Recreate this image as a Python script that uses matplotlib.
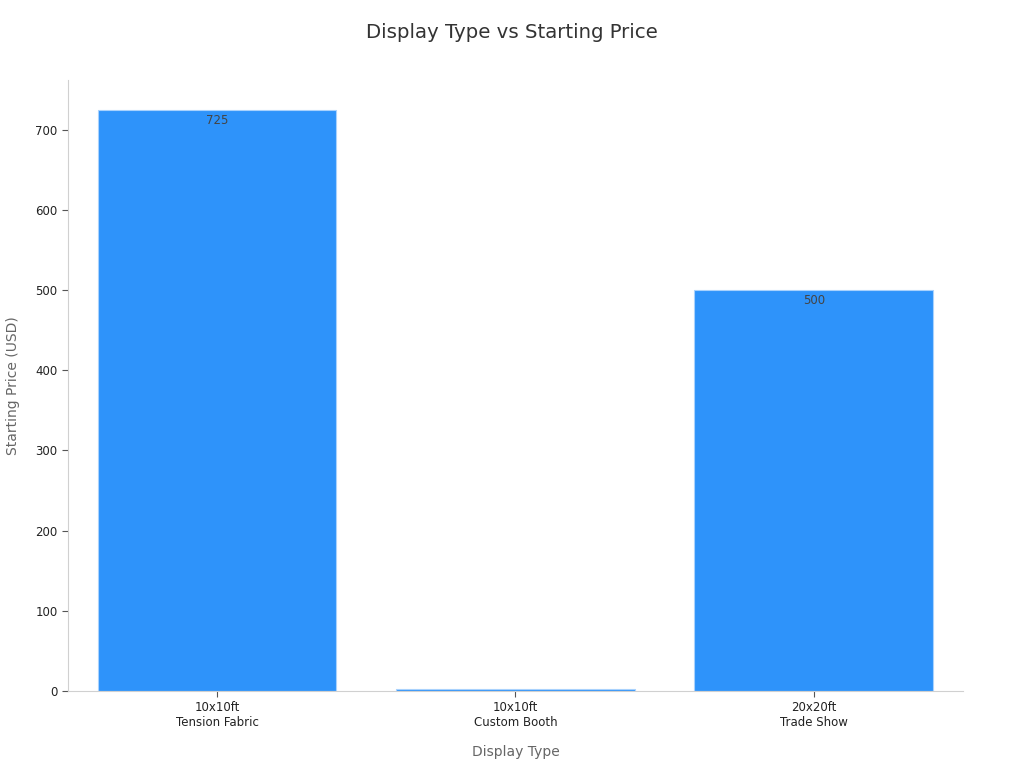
import matplotlib
matplotlib.use("Agg")
import matplotlib.pyplot as plt

categories = ["10x10ft\nTension Fabric", "10x10ft\nCustom Booth", "20x20ft\nTrade Show"]
prices = [725, 3, 500]
labels = ["725", "", "500"]

plt.rcParams['font.family'] = ['DejaVu Sans']
fig = plt.figure(figsize=(10.24, 7.68), dpi=100)
ax = fig.add_axes([0.0664, 0.1003, 0.874, 0.7955])

bars = ax.bar(range(len(categories)), prices, width=0.8, color="#2E93FA",
              edgecolor="#A9D2FD", linewidth=0.8)
for b, lab in zip(bars, labels):
    if lab:
        ax.annotate(lab, (b.get_x() + b.get_width() / 2, b.get_height()),
                    xytext=(0, -7.5), textcoords="offset points", ha="center", va="center",
                    fontsize=8.5, color="#444444")

ax.set_xlim(-0.5, 2.5)
ax.set_ylim(0, 762)
ax.set_xticks(range(len(categories)))
ax.set_xticklabels(categories)
ax.set_yticks([0, 100, 200, 300, 400, 500, 600, 700])
ax.tick_params(axis='both', labelsize=8.5, colors="#222222", length=4, color="#555555")
for s in ["top", "right"]:
    ax.spines[s].set_visible(False)
for s in ["left", "bottom"]:
    ax.spines[s].set_color("#D0D0D0")
ax.set_xlabel("Display Type", fontsize=10, color="#666666", labelpad=11)
ax.set_ylabel("Starting Price (USD)", fontsize=10, color="#666666", labelpad=11)
fig.suptitle("Display Type vs Starting Price", fontsize=14.2, color="#333333", y=0.97)

fig.savefig("out.png", dpi=100)
